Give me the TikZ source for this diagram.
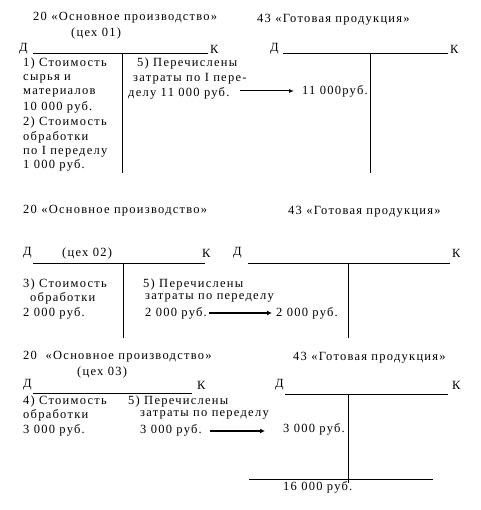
\documentclass[tikz,border=0pt]{standalone}
\usepackage{fontspec}
\setmainfont{Liberation Serif}[LetterSpace=10]
\usetikzlibrary{arrows.meta}
\begin{document}
\begin{tikzpicture}[x=1pt,y=-1pt,
  txt/.style={anchor=west,inner sep=0pt,font=\fontsize{12.5}{14}\selectfont},
  rule/.style={line width=0.8pt},
  flow/.style={line width=1pt,-{Latex[length=5pt,width=4pt]}},
  flowb/.style={line width=1.6pt,-{Latex[length=5pt,width=5pt]}}]
\useasboundingbox (0,0) rectangle (480,510);
% ---- Block 1
\node[txt] (h1) at (33,18) {20 «Основное производство»};
\node[txt] (c1) at (71,33) {(цех 01)};
\node[txt] (d1) at (19,49) {Д};
\node[txt] (k1) at (210,49) {К};
\draw[rule] (33,53) -- (208,53);
\draw[rule] (122,53) -- (122,173);
\node[txt] (l11) at (23,63) {1) Стоимость};
\node[txt] (l12) at (23,79) {сырья и};
\node[txt] (l13) at (23,93) {материалов};
\node[txt] (l14) at (23,107) {10 000 руб.};
\node[txt] (l15) at (23,122) {2) Стоимость};
\node[txt] (l16) at (23,137) {обработки};
\node[txt] (l17) at (23,152) {по I переделу};
\node[txt] (l18) at (23,165) {1 000 руб.};
\node[txt] (r11) at (137,63) {5) Перечислены};
\node[txt] (r12) at (133,79) {затраты по I пере-};
\node[txt] (r13) at (128,93) {делу 11 000 руб.};
\node[txt] (g1h) at (257,20) {43 «Готовая продукция»};
\node[txt] (gd1) at (270,49) {Д};
\node[txt] (gk1) at (450,49) {К};
\draw[rule] (283,53) -- (448,53);
\draw[rule] (370,53) -- (370,173);
\node[txt] (g1) at (302,91) {11 000руб.};
\coordinate (a1s) at (240,91);
\coordinate (a1e) at (294,91);
\draw[flow] (a1s) -- (a1e);
% ---- Block 2
\node[txt] (h2) at (23,211) {20 «Основное производство»};
\node[txt] (d2) at (23,253) {Д};
\node[txt] (c2) at (62,253) {(цех 02)};
\node[txt] (k2) at (202,253) {К};
\draw[rule] (33,263) -- (205,263);
\draw[rule] (123,263) -- (123,338);
\node[txt] (l21) at (23,284) {3) Стоимость};
\node[txt] (l22) at (30,298) {обработки};
\node[txt] (l23) at (23,313) {2 000 руб.};
\node[txt] (r21) at (143,284) {5) Перечислены};
\node[txt] (r22) at (145,298) {затраты по переделу};
\node[txt] (r23) at (145,313) {2 000 руб.};
\node[txt] (g2h) at (288,212) {43 «Готовая продукция»};
\node[txt] (gd2) at (233,253) {Д};
\node[txt] (gk2) at (452,253) {К};
\draw[rule] (248,263) -- (450,263);
\draw[rule] (348,263) -- (348,338);
\node[txt] (g2) at (276,313) {2 000 руб.};
\coordinate (a2s) at (209,313);
\coordinate (a2e) at (272,313);
\draw[flowb] (a2s) -- (a2e);
% ---- Block 3
\node[txt] (h3) at (23,357) {20 \ «Основное производство»};
\node[txt] (c3) at (77,372) {(цех 03)};
\node[txt] (d3) at (23,385) {Д};
\node[txt] (k3) at (197,385) {К};
\draw[rule] (33,393) -- (192,393);
\node[txt] (l31) at (23,401) {4) Стоимость};
\node[txt] (l32) at (23,415) {обработки};
\node[txt] (l33) at (23,430) {3 000 руб.};
\node[txt] (r31) at (128,401) {5) Перечислены};
\node[txt] (r32) at (140,415) {затраты по переделу};
\node[txt] (r33) at (140,430) {3 000 руб.};
\node[txt] (g3h) at (293,358) {43 «Готовая продукция»};
\node[txt] (gd3) at (275,385) {Д};
\node[txt] (gk3) at (452,385) {К};
\draw[rule] (285,394) -- (448,394);
\draw[rule] (348,394) -- (348,483);
\node[txt] (g3) at (283,429) {3 000 руб.};
\coordinate (a3s) at (210,431);
\coordinate (a3e) at (265,431);
\draw[flowb] (a3s) -- (a3e);
\draw[rule] (249,479) -- (433,479);
\node[txt] (tot) at (283,487) {16 000 руб.};
\end{tikzpicture}
\end{document}
